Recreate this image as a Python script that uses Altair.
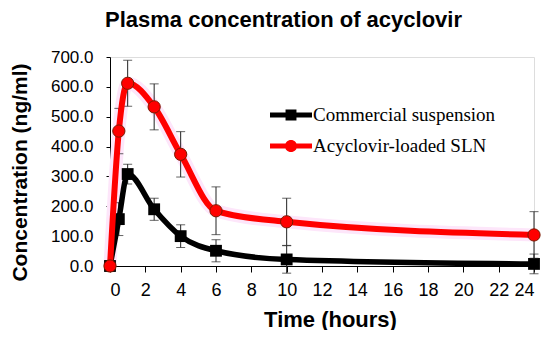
import altair as alt
import pandas as pd

# ---- data ----
time_h = [0, 0.5, 1, 2.5, 4, 6, 10, 24]
commercial = [0, 157, 308, 190, 100, 51, 22, 7]
commercial_sd = [0, 55, 33, 37, 38, 37, 46, 33]
sln = [0, 452, 612, 533, 374, 185, 148, 104]
sln_sd = [0, 76, 77, 77, 76, 80, 79, 78]
series_names = ["Commercial suspension", "Acyclovir-loaded SLN"]
x_ticks = list(range(0, 25, 2))
y_ticks = list(range(0, 701, 100))

rows = []
for name, vals, sds in [(series_names[0], commercial, commercial_sd),
                        (series_names[1], sln, sln_sd)]:
    for t, v, s in zip(time_h, vals, sds):
        rows.append({"time": t, "conc": v, "lo": v - s, "hi": v + s, "series": name})
df = pd.DataFrame(rows)
legend_df = pd.DataFrame({"series": series_names})

FONT = "Liberation Sans"
xscale = alt.Scale(domain=[0, 24], nice=False, zero=False)
yscale = alt.Scale(domain=[0, 700], nice=False)

x_axis = alt.Axis(values=x_ticks, title="Time (hours)", grid=False, labelOverlap=False,
                  labelFontSize=18, labelFont=FONT, labelColor="black",
                  tickSize=6, tickColor="black", domainColor="black",
                  labelPadding=9, titleFontSize=22, titleFont=FONT,
                  titleFontWeight="bold", titleColor="black",
                  titleX=220, titleY=60, titleBaseline="alphabetic")
y_axis = alt.Axis(values=y_ticks, format=".1f", title="Concentration (ng/ml)",
                  grid=False, labelOverlap=False, labelFontSize=17, labelFont=FONT,
                  labelColor="black",
                  tickSize=4, tickColor="black", domainColor="black",
                  labelPadding=13, titleFontSize=21, titleFont=FONT,
                  titleFontWeight="bold", titleColor="black",
                  titleX=-90, titleY=115, titleAngle=270, titleAlign="center",
                  titleBaseline="middle")

base = alt.Chart(df)
X = alt.X("time:Q", scale=xscale, axis=x_axis)
Y = alt.Y("conc:Q", scale=yscale, axis=y_axis)
Ylo = alt.Y("lo:Q", scale=yscale, axis=y_axis)
Yhi = alt.Y("hi:Q", scale=yscale, axis=y_axis)

black = base.transform_filter(alt.datum.series == series_names[0])
red = base.transform_filter(alt.datum.series == series_names[1])

glow = red.mark_line(color="#fde6fa", strokeWidth=13, interpolate="monotone").encode(x=X, y=Y)


def errbars(src, color):
    rule = src.mark_rule(color=color, strokeWidth=1).encode(x=X, y=Ylo, y2="hi:Q")
    cap_hi = src.mark_tick(color=color, size=9, thickness=1, orient="horizontal").encode(x=X, y=Yhi)
    cap_lo = src.mark_tick(color=color, size=9, thickness=1, orient="horizontal").encode(x=X, y=Ylo)
    return [rule, cap_hi, cap_lo]


black_line = black.mark_line(color="black", strokeWidth=5.5, interpolate="monotone").encode(x=X, y=Y)
black_pts = black.mark_point(shape="square", filled=True, color="black", size=140, opacity=1).encode(x=X, y=Y)
red_line = red.mark_line(color="#ff0000", strokeWidth=6, interpolate="monotone").encode(x=X, y=Y)
red_pts = red.mark_point(shape="circle", filled=True, fill="#ff0000", stroke="#7a1a00",
                         strokeWidth=1, size=150, opacity=1).encode(x=X, y=Y)

# legend-only layer: symbols are line + marker paths
bar = "M-1,-0.12H1V0.12H-1Z"
sq_path = bar + " M-0.26,-0.26H0.26V0.26H-0.26Z"
ci_path = bar + " M-0.29,0A0.29,0.29 0 1,1 0.29,0A0.29,0.29 0 1,1 -0.29,0Z"
leg = dict(title=None, orient="none", legendX=160, legendY=37,
           labelFont="Liberation Serif", labelFontSize=19, labelLimit=0,
           labelColor="black", symbolSize=1764, labelOffset=1,
           rowPadding=0, padding=0, symbolStrokeWidth=0, symbolOpacity=1)
legend_layer = alt.Chart(legend_df).mark_point(filled=True, size=0, strokeWidth=0).encode(
    color=alt.Color("series:N", scale=alt.Scale(domain=series_names, range=["black", "#ff0000"]),
                    legend=alt.Legend(**leg)),
    shape=alt.Shape("series:N", scale=alt.Scale(domain=series_names, range=[sq_path, ci_path]),
                    legend=alt.Legend(**leg)),
)

layers = [glow] + errbars(black, "#222222") + [black_line, black_pts] + errbars(red, "#222222") + [red_line, red_pts, legend_layer]

chart = alt.layer(*layers).properties(
    width=424, height=209,
    title=alt.TitleParams("Plasma concentration of acyclovir", anchor="start", frame="group",
                          dx=-5, fontSize=22, font=FONT, fontWeight="bold", color="black",
                          offset=16),
    autosize=alt.AutoSizeParams(type="none"),
    padding={"left": 102, "top": 49, "right": 8, "bottom": 64},
).configure_view(stroke=None).configure(background="white")

chart.save("out.html", embed_options={"renderer": "svg", "actions": False})
